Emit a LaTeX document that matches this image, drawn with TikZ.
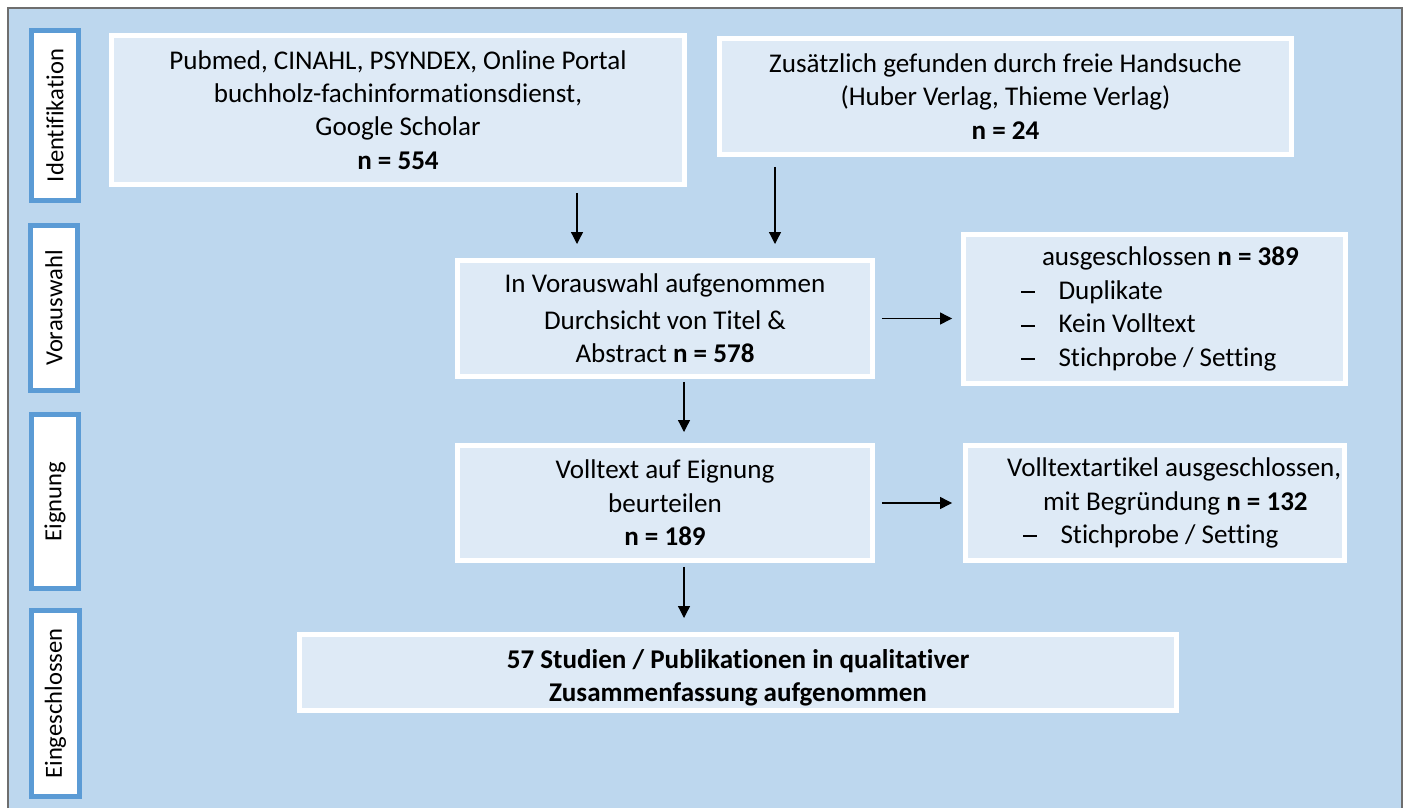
\documentclass[tikz,border=0pt]{standalone}
\usepackage{fontspec}
\setmainfont{Carlito}[Ligatures=NoCommon]
\usetikzlibrary{arrows.meta}
\definecolor{bgblue}{HTML}{BDD7EE}
\definecolor{boxblue}{HTML}{DEEAF6}
\definecolor{lineblue}{HTML}{5B9BD5}
\definecolor{framegray}{HTML}{6E6E6E}
\newcommand{\exitem}[1]{\hspace*{1.15cm}\makebox[0.75cm][l]{\rule[0.23em]{0.28cm}{0.035cm}}#1}

\begin{document}
\begin{tikzpicture}[x=0.02cm,y=-0.02cm]
\tikzstyle{every node}+=[inner sep=0pt]
\tikzstyle{flowbox}=[draw=white,line width=0.1cm,fill=boxblue,align=center,font=\fontsize{15.4}{19}\selectfont]
\tikzstyle{sidebox}=[draw=lineblue,line width=0.1cm,fill=white,rotate=90,font=\fontsize{14}{17}\selectfont]
\tikzstyle{arr}=[-{Triangle[width=0.24cm,length=0.24cm]},line width=0.7pt]
\useasboundingbox (0,0) rectangle (1405,808);
\fill[white] (0,0) rectangle (1405,808);
\fill[bgblue] (8,8) rectangle (1402,808);
\draw[framegray,line width=0.04cm] (8,808) -- (8,8) -- (1402,8) -- (1402,808);
\node[sidebox,minimum width=3.4cm,minimum height=0.94cm] (lid) at (55,115.5) {Identifikation};
\node[sidebox,minimum width=3.3cm,minimum height=0.94cm] (lvor) at (54,308) {Vorauswahl};
\node[sidebox,minimum width=3.48cm,minimum height=0.94cm] (leig) at (55,501.5) {Eignung};
\node[sidebox,minimum width=3.72cm,minimum height=0.96cm] (lein) at (55.5,703.5) {Eingeschlossen};
\node[flowbox,minimum width=11.46cm,minimum height=2.98cm] (src1) at (398,110) {Pubmed, CINAHL, PSYNDEX, Online Portal\\buchholz-fachinformationsdienst,\\Google Scholar\\\textbf{n = 554}};
\node[flowbox,minimum width=11.44cm,minimum height=2.32cm] (src2) at (1005.5,96.5) {Zusätzlich gefunden durch freie Handsuche\\(Huber Verlag, Thieme Verlag)\\\textbf{n = 24}};
\node[flowbox,minimum width=8.3cm,minimum height=2.32cm] (vor) at (665,318.5) {In Vorauswahl aufgenommen\\[2pt]Durchsicht von Titel \&\\Abstract \textbf{n = 578}};
\node[flowbox,align=flush left,text width=7.64cm,minimum height=2.98cm] (aus1) at (1154.5,309) {\hspace*{1.57cm}ausgeschlossen \textbf{n = 389}\\\exitem{Duplikate}\\\exitem{Kein Volltext}\\\exitem{Stichprobe / Setting}};
\node[flowbox,minimum width=8.3cm,minimum height=2.3cm] (voll) at (665,503) {Volltext auf Eignung\\beurteilen\\\textbf{n = 189}};
\node[flowbox,align=flush left,text width=7.58cm,minimum height=2.3cm] (aus2) at (1155,503) {\hspace*{0.83cm}Volltextartikel ausgeschlossen,\\\hspace*{1.55cm}mit Begründung \textbf{n = 132}\\\exitem{Stichprobe / Setting}};
\node[flowbox,minimum width=17.54cm,minimum height=1.52cm,font=\bfseries\fontsize{15.4}{19}\selectfont] (ein) at (738,672.5) {\rule{0pt}{17pt}57 Studien / Publikationen in qualitativer\\Zusammenfassung aufgenommen};
\coordinate (xa) at (577,0);
\coordinate (xb) at (775,0);
\coordinate (xc) at (684,0);
\draw[arr,shorten <=0.12cm,shorten >=0.28cm] (src1.south -| xa) -- (vor.north -| xa);
\draw[arr,shorten <=0.2cm,shorten >=0.28cm] (src2.south -| xb) -- (vor.north -| xb);
\draw[arr,shorten <=0.14cm,shorten >=0.18cm] (vor.east) -- (vor.east -| aus1.west);
\draw[arr,shorten <=0.06cm,shorten >=0.22cm] (vor.south -| xc) -- (voll.north -| xc);
\draw[arr,shorten <=0.14cm,shorten >=0.22cm] (voll.east) -- (voll.east -| aus2.west);
\draw[arr,shorten <=0.08cm,shorten >=0.28cm] (voll.south -| xc) -- (ein.north -| xc);
\end{tikzpicture}
\end{document}
